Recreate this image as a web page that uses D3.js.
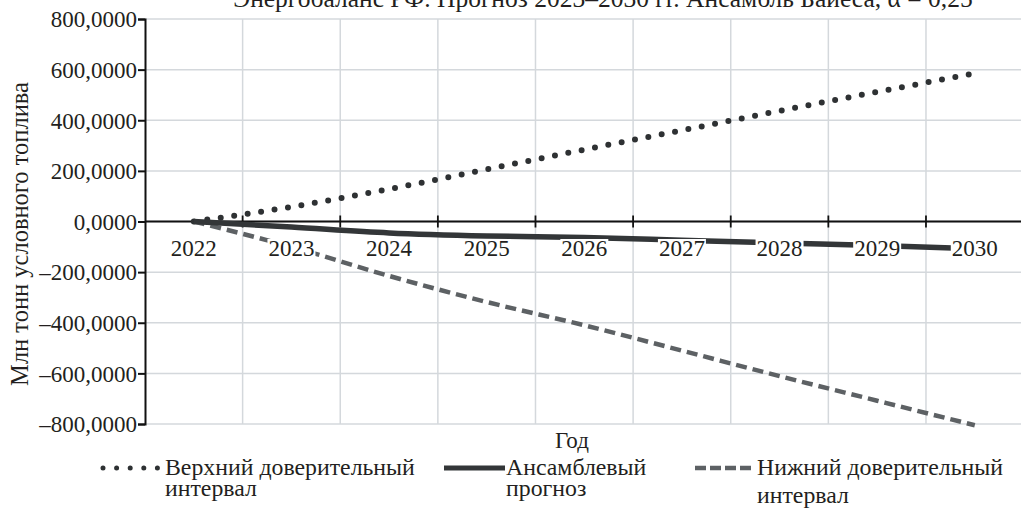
<!DOCTYPE html>
<html>
<head>
<meta charset="utf-8">
<script src="https://cdn.jsdelivr.net/npm/d3@7/dist/d3.min.js"></script>
<style>
  html, body { margin: 0; padding: 0; background: #fff; }
  svg { display: block; }
  svg text { font-family: "Liberation Serif", "Times New Roman", serif !important; fill: #231f20; }
</style>
</head>
<body>
<svg id="chart" width="1021" height="508" font-family="Liberation Serif"></svg>
<script>
// ---- Data ----
const years = ["2022", "2023", "2024", "2025", "2026", "2027", "2028", "2029", "2030"];
const upperValues = [0, 58, 128, 206, 284, 360, 437, 512, 585];
const ensembleValues = [0, -22, -45, -57, -63, -74, -85, -95, -108];
const lowerValues = [0, -100, -215, -318, -410, -510, -611, -708, -805];
const yTickValues = [800, 600, 400, 200, 0, -200, -400, -600, -800];
const titleText = "Энергобаланс РФ. Прогноз 2023–2030 гг. Ансамбль Байеса, α = 0,25";
const yAxisTitle = "Млн тонн условного топлива";
const xAxisTitle = "Год";
const legendLabels = [["Верхний доверительный", "интервал"], ["Ансамблевый", "прогноз"], ["Нижний доверительный", "интервал"]];

// ---- Layout ----
const svg = d3.select("#chart");
const mLeft = 145, mRight = 1023.6, mTop = 19, mBottom = 424;
const FS = 23;

const x = d3.scaleBand().domain(years).range([mLeft, mRight]).padding(0);
const y = d3.scaleLinear().domain([-800, 800]).range([mBottom, mTop]);

const fmt = v => (v < 0 ? "–" : "") + d3.format(".4f")(Math.abs(v)).replace(".", ",");

// Title (cut at the top, as in the reference)
svg.append("text").attr("x", 603).attr("y", 7).attr("text-anchor", "middle")
  .attr("font-size", 25.5).text(titleText);

// Gridlines
const grid = svg.append("g");
grid.selectAll("line.h").data(yTickValues).join("line")
  .attr("x1", mLeft).attr("x2", 1021)
  .attr("y1", d => y(d)).attr("y2", d => y(d))
  .attr("stroke", "#d4d8dc").attr("stroke-width", 1.5);
const bounds = years.slice(1).map(d => x(d));
grid.selectAll("line.v").data(bounds).join("line")
  .attr("x1", d => d).attr("x2", d => d)
  .attr("y1", mTop).attr("y2", mBottom)
  .attr("stroke", "#d4d8dc").attr("stroke-width", 1.5);

// Y axis
const yAxis = d3.axisLeft(y).tickValues(yTickValues).tickFormat(fmt).tickSize(7).tickPadding(1);
const gy = svg.append("g").attr("transform", `translate(${mLeft},0)`).call(yAxis)
  .attr("font-family", "Liberation Serif").attr("font-size", FS);
gy.select(".domain").attr("stroke", "#111").attr("stroke-width", 2);
gy.selectAll(".tick line").attr("stroke", "#111").attr("stroke-width", 2);
gy.selectAll(".tick text").attr("fill", "#231f20").attr("dy", "0.34em");

// Zero axis (x)
svg.append("line").attr("x1", mLeft).attr("x2", 1021).attr("y1", y(0)).attr("y2", y(0))
  .attr("stroke", "#111").attr("stroke-width", 2);
svg.selectAll("line.xt").data(bounds).join("line")
  .attr("x1", d => d).attr("x2", d => d)
  .attr("y1", y(0) - 6).attr("y2", y(0) + 6)
  .attr("stroke", "#111").attr("stroke-width", 1.8);

// Lines
const xc = d => x(d) + x.bandwidth() / 2;
const line = d3.line().x((d, i) => xc(years[i])).y(d => y(d)).curve(d3.curveMonotoneX);

svg.append("path").datum(lowerValues).attr("d", line)
  .attr("fill", "none").attr("stroke", "#5d6164").attr("stroke-width", 4.5)
  .attr("stroke-dasharray", "11 6");
svg.append("path").datum(upperValues).attr("d", line)
  .attr("fill", "none").attr("stroke", "#2e3133").attr("stroke-width", 6)
  .attr("stroke-linecap", "round").attr("stroke-dasharray", "0 13.6");
svg.append("path").datum(ensembleValues).attr("d", line)
  .attr("fill", "none").attr("stroke", "#333638").attr("stroke-width", 5.5);

// Year labels with white backgrounds
const yl = svg.append("g");
years.forEach(yr => {
  const g = yl.append("g");
  const t = g.append("text").attr("x", xc(yr)).attr("y", 256).attr("text-anchor", "middle")
    .attr("font-size", FS).text(yr);
  const bb = t.node().getBBox();
  g.insert("rect", "text").attr("x", bb.x - 1).attr("y", bb.y + 3).attr("width", bb.width + 2)
    .attr("height", bb.height - 5).attr("fill", "#fff");
});

// Axis titles
svg.append("text").attr("transform", "translate(28,234) rotate(-90)")
  .attr("text-anchor", "middle").attr("font-size", 24.5).text(yAxisTitle);
svg.append("text").attr("x", 572).attr("y", 448).attr("text-anchor", "middle")
  .attr("font-size", FS).text(xAxisTitle);

// Legend
const LFS = 23.8;
const lg = svg.append("g");
const items = [
  {x0: 103, x1: 160, tx: 165, style: "dot", y2: 496},
  {x0: 444, x1: 505, tx: 506, style: "solid", y2: 496},
  {x0: 695, x1: 752, tx: 757, style: "dash", y2: 503}
];
items.forEach((it, i) => {
  const l = lg.append("line").attr("x1", it.x0).attr("x2", it.x1).attr("y1", 468).attr("y2", 468)
    .attr("stroke-width", 5);
  if (it.style === "dot") l.attr("stroke", "#2e3133").attr("stroke-linecap", "round").attr("stroke-dasharray", "0 13.6");
  else if (it.style === "solid") l.attr("stroke", "#333638");
  else l.attr("stroke", "#5d6164").attr("stroke-width", 4.5).attr("stroke-dasharray", "11 4");
  lg.append("text").attr("x", it.tx).attr("y", 475).attr("font-size", LFS).text(legendLabels[i][0]);
  lg.append("text").attr("x", it.tx).attr("y", it.y2).attr("font-size", LFS).text(legendLabels[i][1]);
});
</script>
</body>
</html>
